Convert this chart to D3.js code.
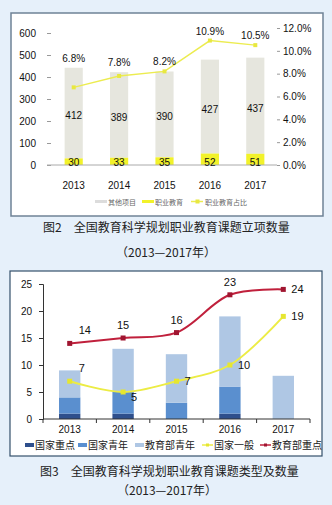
<!DOCTYPE html>
<html><head><meta charset="utf-8">
<script src="https://cdn.jsdelivr.net/npm/d3@7"></script>
<style>
html,body{margin:0;padding:0;background:#e6f0fa;}
svg{display:block;}
text{font-family:"Liberation Sans","Noto Sans CJK SC",sans-serif;}
.cjk{font-family:"Noto Sans CJK SC",sans-serif;}
</style></head>
<body>
<script>
// ---- Chart 1 data (图2) ----
const years = ["2013","2014","2015","2016","2017"];
const otherProjects = [412, 389, 390, 427, 437];
const vocational = [30, 33, 35, 52, 51];
const vocShare = [0.068, 0.078, 0.082, 0.109, 0.105];
const shareLabels = ["6.8%","7.8%","8.2%","10.9%","10.5%"];
const leftTicks1 = [0,100,200,300,400,500,600];
const rightTicks1 = [0,0.02,0.04,0.06,0.08,0.10,0.12];
const legend1 = ["其他项目","职业教育","职业教育占比"];
const caption1 = "图2　全国教育科学规划职业教育课题立项数量";
const subCaption = "（2013—2017年）";

// ---- Chart 2 data (图3) ----
const nationalKey = [1, 1, 0, 1, 0];
const nationalYouth = [3, 4, 3, 5, 0];
const moeYouth = [5, 8, 9, 13, 8];
const nationalGeneral = [7, 5, 7, 10, 19];
const moeKey = [14, 15, 16, 23, 24];
const leftTicks2 = [0,5,10,15,20,25];
const legend2 = ["国家重点","国家青年","教育部青年","国家一般","教育部重点"];
const caption2 = "图3　全国教育科学规划职业教育课题类型及数量";
const generalLabelPos = ["ne","se","e","e","e"];
const keyLabelPos = ["ne","n","n","n","e"];

const W = 332, H = 505;
const svg = d3.select("body").append("svg").attr("width", W).attr("height", H);
svg.append("rect").attr("width", W).attr("height", H).attr("fill", "#e6f0fa");

// ================= Chart 1 =================
{
  const g = svg.append("g");
  g.append("rect").attr("x", 11).attr("y", 13).attr("width", 312).attr("height", 203)
    .attr("fill", "#fff").attr("stroke", "#6f8296").attr("stroke-width", 1.5);
  const x = d3.scaleBand().domain(years).range([51, 278]).paddingInner(0.6).paddingOuter(0.3);
  const yL = d3.scaleLinear().domain([0, 600]).range([165, 33]);
  const yR = d3.scaleLinear().domain([0, 0.12]).range([165, 28]);

  const axL = g.append("g").attr("transform", "translate(50,0)")
    .call(d3.axisLeft(yL).tickValues(leftTicks1).tickSize(4).tickPadding(10));
  axL.select(".domain").remove();
  axL.selectAll("line").attr("stroke", "#999").attr("transform", "translate(1,0)");
  axL.selectAll("text").attr("font-size", 10).attr("fill", "#111");

  const axR = g.append("g").attr("transform", "translate(277,0)")
    .call(d3.axisRight(yR).tickValues(rightTicks1).tickSize(3).tickPadding(3).tickFormat(d3.format(".1%")));
  axR.select(".domain").remove();
  axR.selectAll("line").attr("stroke", "#999");
  axR.selectAll("text").attr("font-size", 10).attr("fill", "#111");

  const bw = x.bandwidth();
  const data = years.map((y, i) => ({y, v: vocational[i], o: otherProjects[i], s: vocShare[i], l: shareLabels[i]}));
  g.selectAll(".gb").data(data).join("rect")
    .attr("x", d => x(d.y)).attr("width", bw)
    .attr("y", d => yL(d.v + d.o)).attr("height", d => yL(d.v) - yL(d.v + d.o))
    .attr("fill", "#e6e6de");
  g.selectAll(".yb").data(data).join("rect")
    .attr("x", d => x(d.y)).attr("width", bw)
    .attr("y", d => yL(d.v)).attr("height", d => yL(0) - yL(d.v))
    .attr("fill", "#f2f22a");
  g.append("line").attr("x1", 47).attr("x2", 277).attr("y1", yL(0)).attr("y2", yL(0)).attr("stroke", "#aaa");

  g.selectAll(".ol").data(data).join("text")
    .attr("x", d => x(d.y) + bw / 2).attr("y", d => yL(d.v + d.o / 2) + 6)
    .attr("text-anchor", "middle").attr("font-size", 10).attr("fill", "#111").text(d => d.o);
  g.selectAll(".vl").data(data).join("text")
    .attr("x", d => x(d.y) + bw / 2).attr("y", d => yL(0) + 1)
    .attr("text-anchor", "middle").attr("font-size", 10).attr("fill", "#111").text(d => d.v);

  const line = d3.line().x(d => x(d.y) + bw / 2).y(d => yR(d.s));
  g.append("path").datum(data).attr("d", line).attr("fill", "none").attr("stroke", "#ecec50").attr("stroke-width", 1.5);
  g.selectAll(".pt").data(data).join("rect")
    .attr("x", d => x(d.y) + bw / 2 - 2).attr("y", d => yR(d.s) - 2).attr("width", 4).attr("height", 4).attr("fill", "#e8e840");
  g.selectAll(".sl").data(data).join("text")
    .attr("x", d => x(d.y) + bw / 2).attr("y", d => Math.min(yR(d.s), yL(d.v + d.o)) - 6)
    .attr("text-anchor", "middle").attr("font-size", 10).attr("fill", "#111").text(d => d.l);

  g.selectAll(".xl").data(years).join("text")
    .attr("x", d => x(d) + bw / 2).attr("y", 189).attr("text-anchor", "middle")
    .attr("font-size", 10).attr("fill", "#111").text(d => d);

  // legend
  const lg = g.append("g").attr("class", "cjk");
  lg.append("rect").attr("x", 95).attr("y", 200).attr("width", 12).attr("height", 3).attr("fill", "#dcdcdc");
  lg.append("text").attr("x", 108).attr("y", 204.5).attr("font-size", 7).attr("fill", "#666").attr("class", "cjk").text(legend1[0]);
  lg.append("rect").attr("x", 142).attr("y", 200).attr("width", 12).attr("height", 3).attr("fill", "#f2f22a");
  lg.append("text").attr("x", 155).attr("y", 204.5).attr("font-size", 7).attr("fill", "#666").attr("class", "cjk").text(legend1[1]);
  lg.append("line").attr("x1", 191).attr("x2", 203).attr("y1", 201.5).attr("y2", 201.5).attr("stroke", "#ecec50").attr("stroke-width", 1.5);
  lg.append("rect").attr("x", 195.5).attr("y", 199.5).attr("width", 4).attr("height", 4).attr("fill", "#e8e840");
  lg.append("text").attr("x", 205).attr("y", 204.5).attr("font-size", 7).attr("fill", "#666").attr("class", "cjk").text(legend1[2]);

  g.append("text").attr("class", "cjk").attr("x", 43).attr("y", 231.5).attr("font-size", 12).attr("fill", "#222").text(caption1);
  g.append("text").attr("class", "cjk").attr("x", 166).attr("y", 257).attr("text-anchor", "middle").attr("font-size", 12).attr("fill", "#222").text(subCaption);
}

// ================= Chart 2 =================
{
  const g = svg.append("g");
  g.append("rect").attr("x", 10).attr("y", 271).attr("width", 312).attr("height", 185)
    .attr("fill", "#fff").attr("stroke", "#34506b").attr("stroke-width", 1.2);
  const x = d3.scaleBand().domain(years).range([43, 310]).paddingInner(0.6).paddingOuter(0.3);
  const y = d3.scaleLinear().domain([0, 25]).range([419, 284]);
  const bw = x.bandwidth();

  const ax = g.append("g").attr("transform", "translate(43,0)")
    .call(d3.axisLeft(y).tickValues(leftTicks2).tickSize(4).tickPadding(7));
  ax.select(".domain").attr("stroke", "#333");
  ax.selectAll("line").attr("stroke", "#333");
  ax.selectAll("text").attr("font-size", 10).attr("fill", "#111");

  const stackData = years.map((yr, i) => ({yr, a: nationalKey[i], b: nationalYouth[i], c: moeYouth[i]}));
  const series = d3.stack().keys(["a","b","c"])(stackData);
  const colors = ["#2e4f8c", "#5a8fcf", "#afc7e4"];
  series.forEach((s, k) => {
    g.selectAll(".s" + k).data(s).join("rect")
      .attr("x", d => x(d.data.yr)).attr("width", bw)
      .attr("y", d => y(d[1])).attr("height", d => y(d[0]) - y(d[1]))
      .attr("fill", colors[k]);
  });

  // bottom axis
  g.append("line").attr("x1", 43).attr("x2", 310).attr("y1", y(0)).attr("y2", y(0)).attr("stroke", "#333");
  const step = x.step();
  d3.range(6).forEach(i => {
    const xx = 43 + i * step;
    g.append("line").attr("x1", xx).attr("x2", xx).attr("y1", y(0)).attr("y2", y(0) + 4).attr("stroke", "#333");
  });
  g.selectAll(".xl").data(years).join("text")
    .attr("x", d => x(d) + bw / 2).attr("y", 433).attr("text-anchor", "middle")
    .attr("font-size", 10).attr("fill", "#111").text(d => d);

  const cx = d => x(d.yr) + bw / 2;
  const off = {n: [0, -9, "middle"], ne: [9, -9, "start"], e: [8, 4, "start"], se: [8, 9, "start"]};
  function drawLine(vals, pos, col, mcol) {
    const d = years.map((yr, i) => ({yr, v: vals[i], p: pos[i]}));
    g.append("path").datum(d).attr("d", d3.line().x(cx).y(e => y(e.v)).curve(d3.curveCatmullRom.alpha(0.5)))
      .attr("fill", "none").attr("stroke", col).attr("stroke-width", 2);
    g.selectAll(null).data(d).join("rect")
      .attr("x", e => cx(e) - 2.5).attr("y", e => y(e.v) - 2.5).attr("width", 5).attr("height", 5).attr("fill", mcol);
    g.selectAll(null).data(d).join("text")
      .attr("x", e => cx(e) + off[e.p][0]).attr("y", e => y(e.v) + off[e.p][1])
      .attr("text-anchor", e => off[e.p][2]).attr("font-size", 11).attr("fill", "#111").text(e => e.v);
  }
  drawLine(nationalGeneral, generalLabelPos, "#ecec44", "#e6e630");
  drawLine(moeKey, keyLabelPos, "#c0203c", "#a01530");

  // legend
  const items = [
    {t: legend2[0], x: 25, type: "bar", c: colors[0]},
    {t: legend2[1], x: 78, type: "bar", c: colors[1]},
    {t: legend2[2], x: 135, type: "bar", c: colors[2]},
    {t: legend2[3], x: 202, type: "line", c: "#ecec44", m: "#e6e630"},
    {t: legend2[4], x: 260, type: "line", c: "#c0203c", m: "#a01530"}
  ];
  items.forEach(it => {
    if (it.type === "bar") {
      g.append("rect").attr("x", it.x).attr("y", 443).attr("width", 9).attr("height", 4).attr("fill", it.c);
    } else {
      g.append("line").attr("x1", it.x).attr("x2", it.x + 11).attr("y1", 445).attr("y2", 445).attr("stroke", it.c).attr("stroke-width", 1.5);
      g.append("rect").attr("x", it.x + 4).attr("y", 443.5).attr("width", 3).attr("height", 3).attr("fill", it.m);
    }
    g.append("text").attr("class", "cjk").attr("x", it.x + (it.type === "bar" ? 10 : 12)).attr("y", 449)
      .attr("font-size", 10).attr("fill", "#222").text(it.t);
  });

  g.append("text").attr("class", "cjk").attr("x", 40).attr("y", 476).attr("font-size", 12).attr("fill", "#222").text(caption2);
  g.append("text").attr("class", "cjk").attr("x", 167).attr("y", 495).attr("text-anchor", "middle").attr("font-size", 12).attr("fill", "#222").text(subCaption);
}
</script>
</body></html>
